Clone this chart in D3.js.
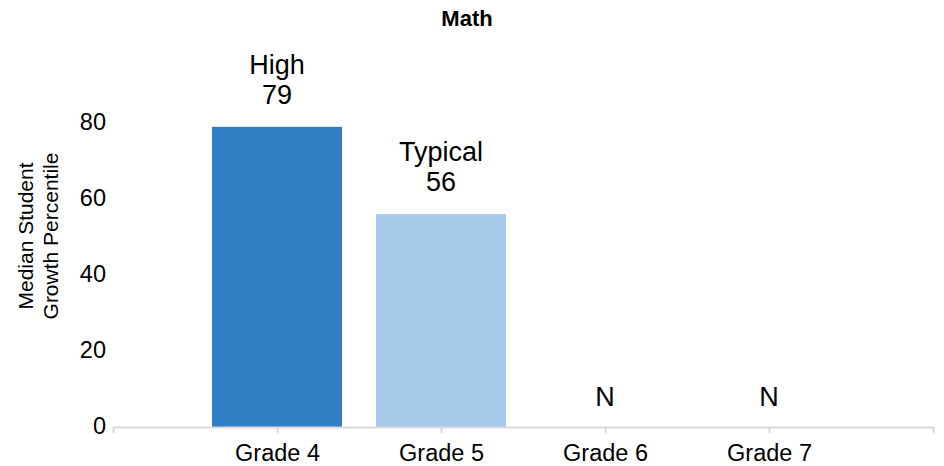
<!DOCTYPE html>
<html>
<head>
<meta charset="utf-8">
<script src="https://cdn.jsdelivr.net/npm/d3@7"></script>
<style>
  body { margin: 0; background: #fff; }
  text { font-family: "Liberation Sans", Arial, sans-serif; fill: #000; }
</style>
</head>
<body>
<div id="chart"></div>
<script>
// data
var grades = ["Grade 4", "Grade 5", "Grade 6", "Grade 7"];
var growth = [79, 56, null, null];
var levels = ["High", "Typical", "N", "N"];
var yTicks = [0, 20, 40, 60, 80];

var colors = {"High": "#317ec4", "Typical": "#a7c9ea"};

var width = 944, height = 466;

var svg = d3.select("#chart")
  .append("svg")
    .attr("width", width)
    .attr("height", height);

var x = d3.scalePoint()
  .domain(grades)
  .range([113, 933])
  .padding(1);

var y = d3.scaleLinear()
  .domain([0, 100])
  .range([427, 47]);

var barW = 130;

// title
svg.append("text")
  .attr("x", 467)
  .attr("y", 26)
  .attr("text-anchor", "middle")
  .style("font-size", "22px")
  .style("font-weight", "bold")
  .text("Math");

// y axis title
var yt = svg.append("text")
  .attr("transform", "translate(33,236) rotate(-90)")
  .attr("text-anchor", "middle")
  .style("font-size", "21px");
yt.append("tspan").attr("x", 0).attr("dy", 0).text("Median Student");
yt.append("tspan").attr("x", 0).attr("dy", 25).text("Growth Percentile");

// y axis (labels only)
var yAxis = svg.append("g")
  .attr("transform", "translate(113,0)")
  .call(d3.axisLeft(y).tickValues(yTicks).tickSize(0).tickPadding(7));
yAxis.select(".domain").remove();
yAxis.selectAll("text").style("font-size", "23.5px").attr("font-family", null).attr("dy", "0.26em");

// bars
svg.selectAll("rect.bar")
  .data(grades.map(function(g, i) { return {g: g, v: growth[i], l: levels[i]}; })
    .filter(function(d) { return d.v != null; }))
  .enter()
  .append("rect")
    .attr("class", "bar")
    .attr("x", function(d) { return x(d.g) - barW / 2; })
    .attr("y", function(d) { return y(d.v); })
    .attr("width", barW)
    .attr("height", function(d) { return y(0) - y(d.v); })
    .style("fill", function(d) { return colors[d.l]; });

// x axis
var xAxis = svg.append("g")
  .attr("transform", "translate(0," + y(0) + ")")
  .call(d3.axisBottom(x).tickSize(6).tickSizeOuter(6).tickPadding(11));
xAxis.select(".domain").attr("stroke", "#d9d9d9").attr("stroke-width", 2);
xAxis.selectAll(".tick line").attr("stroke", "#d9d9d9").attr("stroke-width", 2);
xAxis.selectAll("text").style("font-size", "23.5px").attr("font-family", null);

// bar labels
grades.forEach(function(g, i) {
  var top = y(growth[i] == null ? 0 : growth[i]);
  var t = svg.append("text")
    .attr("text-anchor", "middle")
    .style("font-size", "27px");
  if (growth[i] == null) {
    t.attr("x", x(g)).attr("y", top - 21).text(levels[i]);
  } else {
    t.append("tspan").attr("x", x(g)).attr("y", top - 53).text(levels[i]);
    t.append("tspan").attr("x", x(g)).attr("y", top - 23).text(growth[i]);
  }
});
</script>
</body>
</html>
